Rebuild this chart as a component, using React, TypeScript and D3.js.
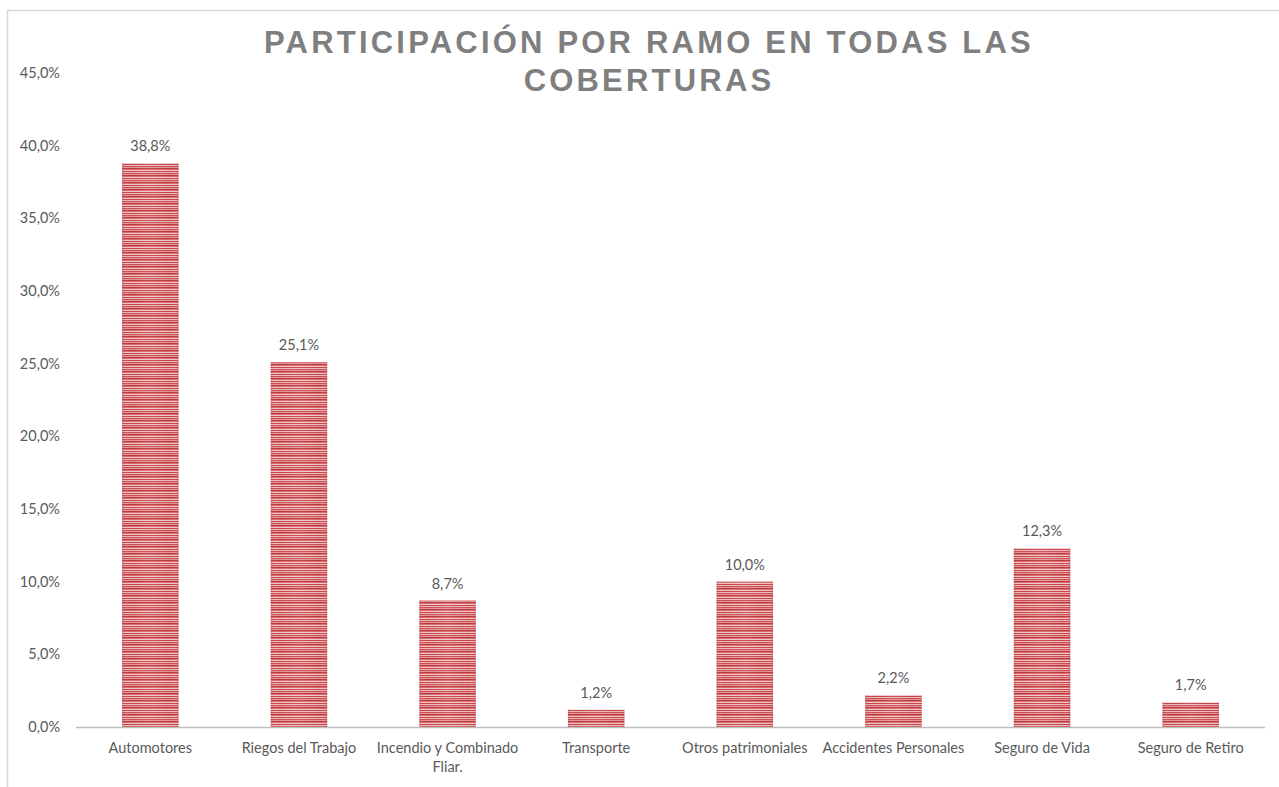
import React from "react";
import * as d3 from "d3";

const categories = [
  "Automotores",
  "Riegos del Trabajo",
  "Incendio y Combinado Fliar.",
  "Transporte",
  "Otros patrimoniales",
  "Accidentes Personales",
  "Seguro de Vida",
  "Seguro de Retiro",
];
const values = [38.8, 25.1, 8.7, 1.2, 10.0, 2.2, 12.3, 1.7];
const yTicks = [0, 5, 10, 15, 20, 25, 30, 35, 40, 45];
const titleLines = ["PARTICIPACIÓN POR RAMO EN TODAS LAS", "COBERTURAS"];

const W = 1279;
const H = 787;
const margin = { left: 76, right: 14, top: 73, bottom: 60 };

const fmt = (v: number) => v.toFixed(1).replace(".", ",") + "%";

function wrapLabel(s: string): string[] {
  if (s === "Incendio y Combinado Fliar.") return ["Incendio y Combinado", "Fliar."];
  return [s];
}

export default function App() {
  const x = d3
    .scaleBand<string>()
    .domain(categories)
    .range([margin.left, W - margin.right])
    .paddingInner(0.62)
    .paddingOuter(0.31);
  const y = d3
    .scaleLinear()
    .domain([0, 45])
    .range([727, 73]);

  const font = "Lato, 'Open Sans', sans-serif";
  const labelColor = "#595959";
  const fs = 14.5;

  return (
    <div style={{ position: "absolute", left: 0, top: 0 }}>
      <svg width={W} height={H} style={{ display: "block", background: "#fff" }}>
        <defs>
          <pattern id="stripes" width="8" height="7" patternUnits="userSpaceOnUse">
            <rect width="8" height="7" fill="#e9a3a5" />
            <rect y="0" width="8" height="1" fill="#bd353a" />
            <rect y="1" width="8" height="1" fill="#d56b6e" />
            <rect y="2" width="8" height="1" fill="#f1c6c6" />
            <rect y="3" width="8" height="1" fill="#c44146" />
            <rect y="4" width="8" height="1" fill="#eebaba" />
            <rect y="5" width="8" height="1" fill="#c84b50" />
            <rect y="6" width="8" height="1" fill="#e39597" />
          </pattern>
          <linearGradient id="edgeShade" x1="0" x2="1" y1="0" y2="0">
            <stop offset="0" stopColor="#b83a3e" stopOpacity="0.2" />
            <stop offset="0.12" stopColor="#ffffff" stopOpacity="0" />
            <stop offset="0.5" stopColor="#ffffff" stopOpacity="0.08" />
            <stop offset="0.88" stopColor="#ffffff" stopOpacity="0" />
            <stop offset="1" stopColor="#b83a3e" stopOpacity="0.2" />
          </linearGradient>
        </defs>

        <rect x={7.5} y={10.5} width={W} height={H} fill="none" stroke="#d9d9d9" strokeWidth={1.5} />

        <text
          x={649}
          textAnchor="middle"
          fill="#7f7f7f"
          fontFamily="'Liberation Sans', Arial, sans-serif"
          fontWeight="bold"
          fontSize={31}
          letterSpacing={3.2}
        >
          {titleLines.map((t, i) => (
            <tspan key={i} x={649} y={53 + i * 38}>
              {t}
            </tspan>
          ))}
        </text>

        {yTicks.map((t) => (
          <text
            key={t}
            x={60}
            y={y(t)}
            dy="0.35em"
            textAnchor="end"
            fill={labelColor}
            fontFamily={font}
            fontSize={fs}
          >
            {fmt(t)}
          </text>
        ))}

        {categories.map((c, i) => {
          const bx = x(c)!;
          const by = y(values[i]);
          const bh = y(0) - by;
          return (
            <g key={c}>
              <rect x={bx} y={by} width={x.bandwidth()} height={bh} fill="url(#stripes)" />
              <rect x={bx} y={by} width={x.bandwidth()} height={bh} fill="url(#edgeShade)" />
              <text
                x={bx + x.bandwidth() / 2}
                y={by - 12}
                textAnchor="middle"
                fill={labelColor}
                fontFamily={font}
                fontSize={fs}
              >
                {fmt(values[i])}
              </text>
            </g>
          );
        })}

        <line x1={margin.left} x2={W - margin.right} y1={727.5} y2={727.5} stroke="#bfbfbf" strokeWidth={1.5} />

        {categories.map((c) => (
          <text
            key={c}
            x={x(c)! + x.bandwidth() / 2}
            y={753}
            textAnchor="middle"
            fill={labelColor}
            fontFamily={font}
            fontSize={fs}
          >
            {wrapLabel(c).map((l, j) => (
              <tspan key={j} x={x(c)! + x.bandwidth() / 2} dy={j === 0 ? 0 : 19}>
                {l}
              </tspan>
            ))}
          </text>
        ))}
      </svg>
    </div>
  );
}
